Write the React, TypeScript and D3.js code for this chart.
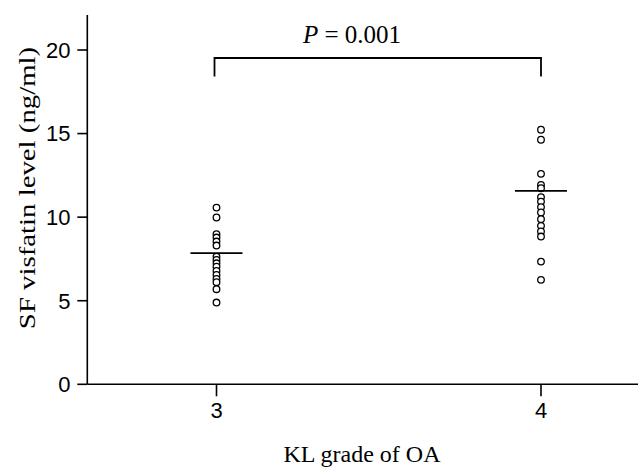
import { useEffect, useRef } from "react";
import * as d3 from "d3";

// KL grade groups
const grades = [3, 4];

// SF visfatin (ng/ml) per patient
const grade3Values = [10.57, 9.98, 8.98, 8.78, 8.54, 8.3, 7.64, 7.44, 7.24, 7.04, 6.78, 6.54, 6.3, 6.11, 5.69, 4.89];
const grade4Values = [15.23, 14.63, 12.59, 11.93, 11.73, 11.2, 10.93, 10.6, 10.28, 9.88, 9.48, 9.14, 8.84, 7.34, 6.25];

// group means (horizontal bars)
const groupMeans = [7.85, 11.57];

const yTicks = [0, 5, 10, 15, 20];
const pLabel = "P = 0.001";

export default function App() {
    const ref = useRef(null);

    useEffect(() => {
        const width = 638;
        const height = 467;
        const svg = d3.select(ref.current);
        svg.selectAll("*").remove();
        svg.attr("width", width).attr("height", height);

        const yScale = d3.scaleLinear().domain([0, 20]).range([384.3, 50]);
        const xScale = d3.scaleLinear().domain([3, 4]).range([216.5, 541]);
        const axisLeft = 87.3;

        const groups = [grade3Values, grade4Values];

        // axes lines
        svg.append("line")
            .attr("x1", axisLeft).attr("x2", axisLeft)
            .attr("y1", yScale(0)).attr("y2", yScale(22.1))
            .attr("stroke", "#000").attr("stroke-width", 1.6);
        svg.append("line")
            .attr("x1", axisLeft).attr("x2", width)
            .attr("y1", yScale(0)).attr("y2", yScale(0))
            .attr("stroke", "#000").attr("stroke-width", 1.6);

        // y ticks
        const yt = svg.append("g");
        yt.selectAll("line").data(yTicks).enter().append("line")
            .attr("x1", axisLeft - 10).attr("x2", axisLeft)
            .attr("y1", d => yScale(d)).attr("y2", d => yScale(d))
            .attr("stroke", "#000").attr("stroke-width", 1.6);
        yt.selectAll("text").data(yTicks).enter().append("text")
            .attr("x", 70.5).attr("y", d => yScale(d))
            .attr("dy", "0.36em")
            .attr("text-anchor", "end")
            .style("font-family", "'Liberation Sans', Arial, sans-serif")
            .style("font-size", "22px")
            .text(d => d);

        // x ticks
        const xt = svg.append("g");
        xt.selectAll("line").data(grades).enter().append("line")
            .attr("x1", d => xScale(d)).attr("x2", d => xScale(d))
            .attr("y1", yScale(0)).attr("y2", yScale(0) + 12)
            .attr("stroke", "#000").attr("stroke-width", 1.6);
        xt.selectAll("text").data(grades).enter().append("text")
            .attr("x", d => xScale(d)).attr("y", 418)
            .attr("text-anchor", "middle")
            .style("font-family", "'Liberation Sans', Arial, sans-serif")
            .style("font-size", "22px")
            .text(d => d);

        // axis titles
        svg.append("text")
            .attr("x", 362).attr("y", 462)
            .attr("text-anchor", "middle")
            .style("font-family", "'Liberation Serif', 'Times New Roman', serif")
            .style("font-size", "24px")
            .text("KL grade of OA");
        // the original label is stretched along its length
        svg.append("text")
            .attr("transform", "translate(35,188) rotate(-90) scale(1.2,1)")
            .attr("text-anchor", "middle")
            .style("font-family", "'Liberation Serif', 'Times New Roman', serif")
            .style("font-size", "24px")
            .text("SF visfatin level (ng/ml)");

        // points
        groups.forEach((vals, i) => {
            svg.append("g").selectAll("circle").data(vals).enter().append("circle")
                .attr("cx", xScale(grades[i]))
                .attr("cy", d => yScale(d))
                .attr("r", 3.3)
                .attr("fill", "#fff")
                .attr("stroke", "#000")
                .attr("stroke-width", 1.3);
        });

        // mean bars
        svg.append("g").selectAll("line").data(groupMeans).enter().append("line")
            .attr("x1", (d, i) => xScale(grades[i]) - 26)
            .attr("x2", (d, i) => xScale(grades[i]) + 26)
            .attr("y1", d => yScale(d)).attr("y2", d => yScale(d))
            .attr("stroke", "#000").attr("stroke-width", 1.8);

        // significance bracket
        const top = yScale(19.52);
        const bottom = yScale(18.42);
        const bx1 = xScale(grades[0]) - 2;
        const bx2 = xScale(grades[1]);
        svg.append("path")
            .attr("d", `M${bx1},${bottom}V${top}H${bx2}V${bottom}`)
            .attr("fill", "none")
            .attr("stroke", "#000")
            .attr("stroke-width", 1.8);

        const pt = svg.append("text")
            .attr("x", 352).attr("y", 43)
            .attr("text-anchor", "middle")
            .style("font-family", "'Liberation Serif', 'Times New Roman', serif")
            .style("font-size", "25px");
        pt.append("tspan").style("font-style", "italic").text(pLabel.slice(0, 1));
        pt.append("tspan").text(pLabel.slice(1));
    }, []);

    return (
        <svg ref={ref} style={{ position: "absolute", left: 0, top: 0, background: "#fff" }}></svg>
    );
}
